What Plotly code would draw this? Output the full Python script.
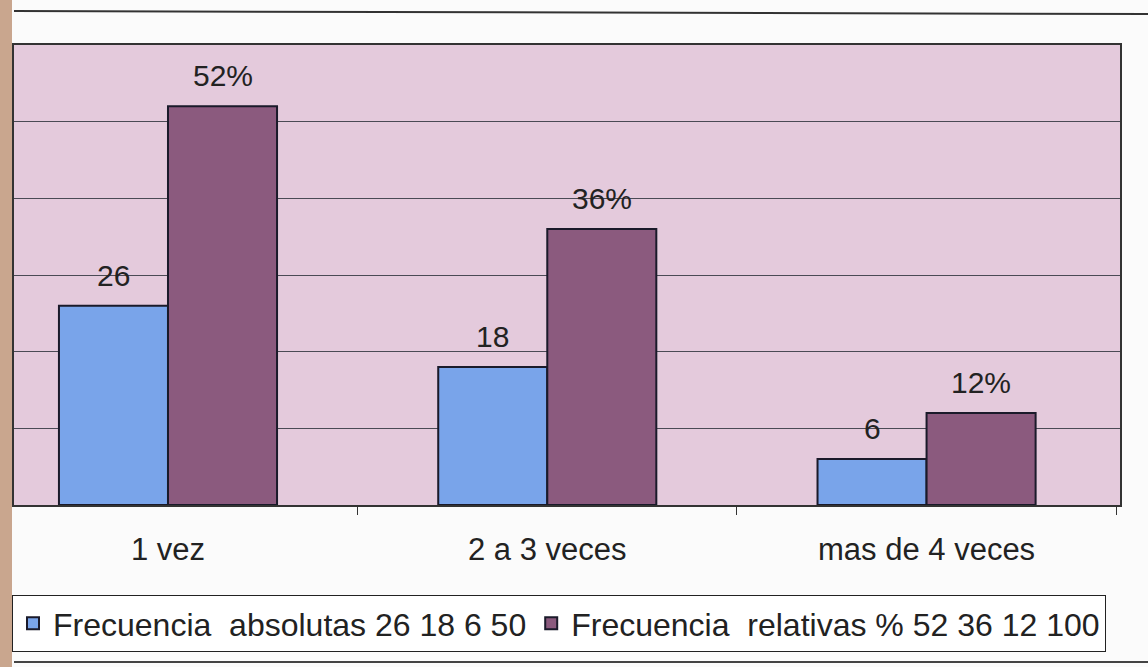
import plotly.graph_objects as go

categories = ["1 vez", "2 a 3 veces", "mas de 4 veces"]
absolutas = [26, 18, 6]
relativas = [52, 36, 12]
abs_labels = ["26", "18", "6"]
rel_labels = ["52%", "36%", "12%"]
legend_abs = "Frecuencia\u00a0\u00a0absolutas 26 18 6 50"
legend_rel = "Frecuencia\u00a0\u00a0relativas % 52 36 12 100"

BLUE = "#79a4ea"
PURPLE = "#8b5a7e"
BG = "#e4cadc"
FONT = "Liberation Sans, Arial, sans-serif"
FS = 30

W, H = 1148, 667
ML, MR, MT, MB = 14, 28, 45, 162
PW, PH = W - ML - MR, H - MT - MB

def px_y(py):
    return (H - MB - py) / PH

def px_x(px):
    return (px - ML) / PW

fig = go.Figure()
fig.add_trace(go.Bar(x=categories, y=absolutas, name=legend_abs,
                     marker=dict(color=BLUE, line=dict(color="#1a1a2a", width=2))))
fig.add_trace(go.Bar(x=categories, y=relativas, name=legend_rel,
                     marker=dict(color=PURPLE, line=dict(color="#1a1a2a", width=2))))

half = 0.575 / 4
for i in range(len(categories)):
    fig.add_annotation(x=i - half, y=absolutas[i], text=abs_labels[i], showarrow=False,
                       yanchor="bottom", yshift=12, font=dict(size=FS, color="#222", family=FONT))
    fig.add_annotation(x=i + half, y=relativas[i], text=rel_labels[i], showarrow=False,
                       yanchor="bottom", yshift=12, font=dict(size=FS, color="#222", family=FONT))

shapes = [
    dict(type="line", xref="paper", yref="paper", x0=px_x(14), x1=px_x(1148),
         y0=px_y(11), y1=px_y(14), line=dict(color="#333", width=2)),
    dict(type="line", xref="paper", yref="paper", x0=px_x(14), x1=px_x(1148),
         y0=px_y(662), y1=px_y(662), line=dict(color="#444", width=2)),
    dict(type="rect", xref="paper", yref="paper", x0=px_x(0), x1=px_x(12),
         y0=px_y(667), y1=px_y(0), fillcolor="#c9a68e", line=dict(width=0), layer="above"),
]

fig.update_layout(
    width=W, height=H,
    margin=dict(l=ML, r=MR, t=MT, b=MB, autoexpand=False),
    paper_bgcolor="#fbfbfb",
    plot_bgcolor=BG,
    barmode="group",
    bargap=0.425,
    bargroupgap=0,
    font=dict(family=FONT, size=FS, color="#222"),
    showlegend=True,
    legend=dict(orientation="h", x=px_x(12), y=px_y(595), xanchor="left", yanchor="top",
                bordercolor="#222", borderwidth=1, bgcolor="white",
                font=dict(size=32, family=FONT, color="#222"), itemwidth=30,
                traceorder="normal"),
    shapes=shapes,
)
fig.update_xaxes(range=[-0.406, 2.51], showline=True, linecolor="#333", linewidth=2,
                 mirror=True, ticks="outside", tickson="boundaries", ticklen=8,
                 tickcolor="#333", ticklabelstandoff=16, showgrid=False,
                 tickfont=dict(size=31, family=FONT, color="#222"))
fig.update_yaxes(range=[0, 60], dtick=10, showgrid=True, gridcolor="#4a4a55", gridwidth=1,
                 showticklabels=False, showline=True, linecolor="#333", linewidth=2,
                 mirror=True, zeroline=False)

fig.write_html("out.html", config={"displayModeBar": False},
               post_script="document.body.style.margin='0';")
